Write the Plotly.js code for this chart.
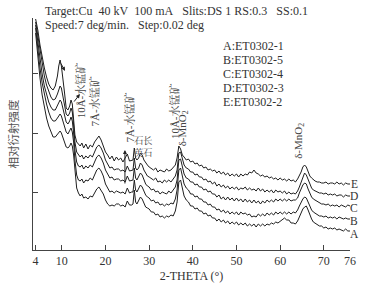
<!DOCTYPE html>
<html><head><meta charset="utf-8">
<script src="https://cdn.plot.ly/plotly-3.0.1.min.js"></script>
<style>html,body{margin:0;padding:0;background:#fff}#c{width:368px;height:284px}</style>
</head><body><div id="c"></div>
<script>
var twoTheta = [4,4.5,5,5.5,6,6.5,7,7.5,8,8.5,9,9.3,9.6,9.9,10.2,10.6,11,11.4,11.8,12.1,12.4,12.7,13,13.4,13.8,
14.2,14.6,15,15.5,16,16.5,17,17.5,18,18.5,19,19.5,20,20.5,21,21.5,22,22.5,23,23.5,24,24.5,25,25.5,26,
26.3,26.6,26.9,27.2,27.6,28,28.4,28.8,29.2,29.6,
30,30.5,31,31.5,32,32.5,33,33.5,34,34.5,35,35.5,36,
36.4,36.8,37.2,37.6,
38,38.5,39,39.5,40,40.5,41,41.5,42,42.5,43,43.5,44,44.5,45,45.5,46,46.5,47,47.5,48,48.5,49,49.5,50,50.5,51,51.5,52,52.5,53,53.5,54,54.5,55,55.5,56,56.5,57,57.5,58,58.5,59,59.5,60,60.5,61,61.5,62,62.5,63,63.5,64,
64.4,64.8,65.2,65.6,66,66.4,66.8,67.2,67.6,
68,68.5,69,69.5,70,70.5,71,71.5,72,72.5,73,73.5,74,74.5,75,75.5,76];

var intensityE = [231,220,205,192,182,173,166,162,160,164,174,184,190,184,170,158,142,140,144,150,146,132,115,108,106,
104,107,102,106,101,105,103,108,111,114,110,104,98,95,91,94,89,93,90,92,88,92,96,89,90,
90,102,92,90,92,97,95,90,87,85,
83,81,80,82,78,80,79,78,81,79,80,82,85,
92,104,101,95,
93,90,91,88,89,86,87,84,85,82,83,80,81,79,80,77,79,76,78,75,77,74,76,74,76,73,76,74,76,75,78,77,80,77,76,74,75,73,74,72,73,71,72,70,72,70,71,69,71,69,70,68,71,
74,78,83,85,83,78,74,72,70,
69,68,68,67,67,68,66,67,67,66,68,66,67,65,67,66,66];

var intensityD = [228,214,198,185,174,165,158,153,150,151,156,160,164,162,155,147,136,134,137,142,138,125,108,98,95,
93,95,91,94,92,95,93,98,103,105,102,97,90,86,82,83,80,81,81,79,80,78,84,79,80,
80,92,82,80,82,87,85,80,77,74,
73,71,70,72,68,69,67,70,68,70,68,71,74,
80,97,98,91,
85,82,81,78,78,75,76,73,73,70,71,68,69,66,68,64,66,63,65,62,64,61,63,61,63,60,62,61,63,60,62,60,61,59,62,59,61,58,60,58,60,57,60,58,59,57,59,56,58,56,57,56,59,
63,68,73,77,75,70,66,62,60,
59,58,57,57,56,57,55,56,55,56,54,55,55,53,55,54,54];

var intensityC = [225,208,190,176,164,155,148,143,140,140,144,147,150,148,142,136,128,126,129,133,129,117,100,88,84,
83,85,81,84,82,85,83,88,93,95,92,87,80,76,72,73,70,71,71,69,70,68,74,69,70,
70,82,72,70,73,77,75,70,66,64,
63,60,61,58,59,56,58,57,56,59,57,60,63,
70,90,91,84,
76,72,71,68,68,65,66,63,63,60,61,58,59,56,56,53,55,51,53,50,53,50,52,49,52,49,51,48,51,48,50,47,50,47,49,46,49,47,50,48,50,48,51,49,51,49,51,49,51,49,50,50,52,
57,62,65,67,66,61,56,53,51,
50,48,47,46,46,45,46,44,45,44,45,43,45,44,43,45,44];

var intensityB = [222,200,182,167,155,146,138,132,129,129,132,134,136,134,129,123,118,116,119,122,118,108,90,75,70,
69,71,67,70,69,72,70,75,80,82,79,74,66,62,58,59,57,59,58,57,58,56,62,57,58,
58,70,60,58,61,65,63,58,55,53,
52,49,50,47,48,45,46,44,46,45,47,46,51,
60,80,82,74,
66,62,60,56,56,53,54,51,51,48,48,45,46,43,43,40,41,38,40,37,39,36,38,36,38,35,38,36,37,35,36,33,34,33,36,34,36,34,37,35,37,35,38,36,38,36,38,36,38,36,38,37,40,
44,48,51,53,52,48,43,40,38,
37,36,34,34,33,34,32,33,32,33,31,33,32,31,32,31,31];

var intensityA = [217,192,172,155,142,132,124,118,113,113,116,118,119,117,113,108,103,102,104,107,104,95,78,62,57,
54,56,52,53,51,54,53,57,61,63,60,56,50,46,44,45,44,46,46,44,45,43,49,45,45,
46,60,48,46,49,53,51,46,43,42,
41,38,38,35,36,33,34,32,34,33,35,34,39,
48,68,70,62,
54,50,48,44,44,41,42,39,39,36,37,34,35,32,32,29,31,28,30,27,29,26,28,26,28,25,27,25,27,24,26,24,26,23,26,24,26,24,26,25,27,26,28,27,29,30,32,30,30,27,27,26,29,
33,37,41,43,44,40,35,31,28,
27,25,24,24,22,23,21,22,21,22,20,21,20,19,21,19,19];

var curveNames = ['A','B','C','D','E'];
var sampleNames = ['A:ET0302-1','B:ET0302-5','C:ET0302-4','D:ET0302-3','E:ET0302-2'];
var xTicks = [4,10,20,30,40,50,60,70,76];

var serif = 'Liberation Serif, "Noto Serif CJK SC", "Noto Sans CJK SC", serif';
var series = [intensityA, intensityB, intensityC, intensityD, intensityE];
var traces = series.map(function(s, i){
  return {x: twoTheta, y: s, type: 'scatter', mode: 'lines', name: curveNames[i],
    line: {color: '#1e1e1e', width: 1}, hoverinfo: 'skip'};
});

var NB = '\u00a0';
var txt = '#333';
var ann = [];
function A(o){ ann.push(Object.assign({showarrow:false, borderpad:0, font:{family:serif, size:12, color:txt}}, o)); }
A({xref:'paper', yref:'paper', x:0.035, y:1.030, xanchor:'left', yanchor:'middle',
   text:'Target:Cu' + NB + NB + '40 kV' + NB + NB + '100 mA' + NB + NB + NB + 'Slits:DS 1 RS:0.3' + NB + NB + NB + 'SS:0.1'});
A({xref:'paper', yref:'paper', x:0.035, y:0.970, xanchor:'left', yanchor:'middle',
   text:'Speed:7 deg/min.' + NB + NB + NB + 'Step:0.02 deg'});
var legY = [0.879, 0.819, 0.759, 0.698, 0.638];
sampleNames.forEach(function(t, i){
  A({xref:'paper', yref:'paper', x:0.596, y:legY[i], xanchor:'left', yanchor:'middle', text:t});
});
var endY = [0.069, 0.125, 0.181, 0.233, 0.284];
curveNames.forEach(function(t, i){
  A({xref:'paper', yref:'paper', x:1.013, y:endY[i], xanchor:'center', yanchor:'middle', text:t, font:{family:serif, size:11.5, color:txt}});
});
var gray = '#444';
A({xref:'paper', yref:'paper', x:0.126, y:0.815, textangle:-90, text:'10Å-水锰矿', font:{family:serif, size:11, color:gray}});
A({xref:'paper', yref:'paper', x:0.170, y:0.754, textangle:-90, text:'7Å-水锰矿', font:{family:serif, size:11, color:gray}});
A({xref:'paper', yref:'paper', x:0.281, y:0.569, textangle:-90, text:'7Å-水锰矿', font:{family:serif, size:11, color:gray}});
A({xref:'paper', yref:'paper', x:0.317, y:0.443, text:'石<br>英', font:{family:serif, size:9.5, color:gray}});
A({xref:'paper', yref:'paper', x:0.362, y:0.443, text:'长<br>石', font:{family:serif, size:9.5, color:gray}});
A({xref:'paper', yref:'paper', x:0.445, y:0.599, textangle:-90, text:'10Å-水锰矿', font:{family:serif, size:11, color:gray}});
A({xref:'paper', yref:'paper', x:0.473, y:0.524, textangle:-90, text:'δ-MnO<sub>2</sub>', font:{family:serif, size:11, color:gray}});
A({xref:'paper', yref:'paper', x:0.864, y:0.470, textangle:-90, text:'δ-MnO<sub>2</sub>', font:{family:serif, size:11, color:gray}});
function arrow(x, y, ax, ay){
  ann.push({xref:'paper', yref:'paper', x:x, y:y, ax:ax, ay:ay, text:'', showarrow:true,
    arrowhead:2, arrowsize:0.8, arrowwidth:1, arrowcolor:'#222', standoff:0, startstandoff:0});
}
arrow(0.101, 0.772, -5, -9);
arrow(0.148, 0.672, -7, 9);
arrow(0.290, 0.431, 0, 35);

var layout = {
  width: 368, height: 284,
  margin: {l: 33, r: 18, t: 18, b: 34, pad: 0},
  paper_bgcolor: '#fff', plot_bgcolor: '#fff',
  showlegend: false,
  xaxis: {range: [3.4, 76], tickvals: xTicks, ticktext: xTicks.map(String), ticks: 'inside', ticklen: 5,
    tickcolor: '#444', showline: true, linecolor: '#444', linewidth: 1, showgrid: false, zeroline: false,
    tickfont: {family: serif, size: 12, color: txt},
    title: {text: '2-THETA (°)', font: {family: serif, size: 12, color: txt}, standoff: 4}},
  yaxis: {range: [0, 232], tickvals: [58, 117, 177], ticks: 'inside', ticklen: 5, showticklabels: false,
    tickcolor: '#444', showline: true, linecolor: '#444', linewidth: 1, showgrid: false, zeroline: false,
    title: {text: '相对衍射强度', font: {family: '"Noto Sans CJK SC", sans-serif', size: 11.5, color: '#555'}, standoff: 10}},
  annotations: ann
};
Plotly.newPlot('c', traces, layout, {displayModeBar: false, staticPlot: true});
</script></body></html>
